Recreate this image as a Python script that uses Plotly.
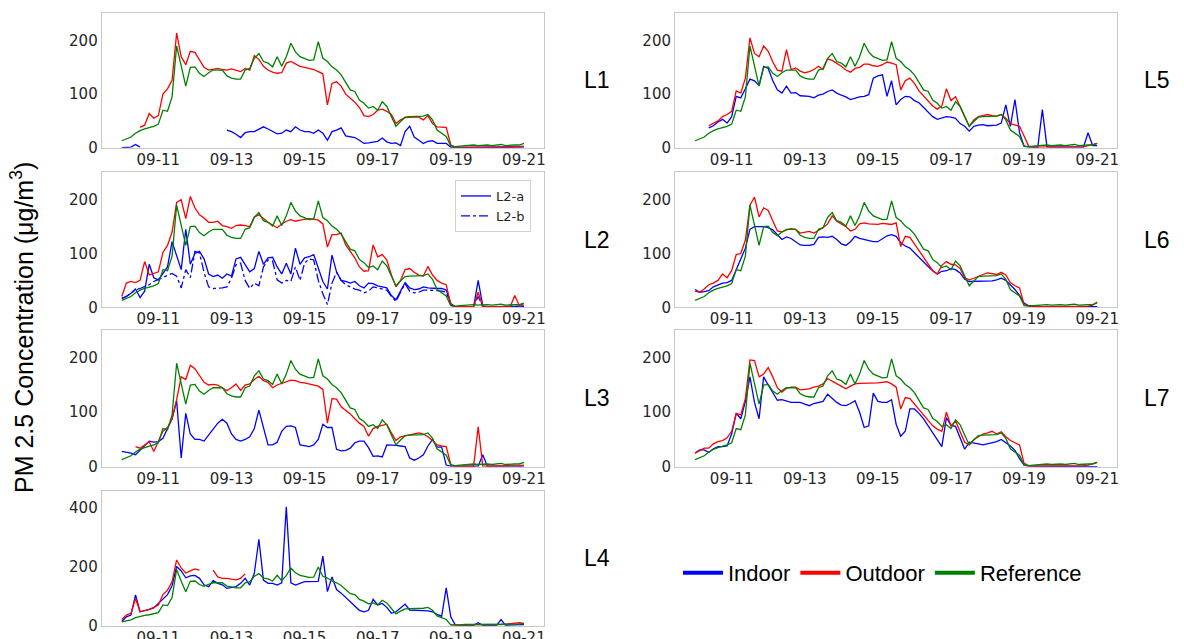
import pandas as pd
import plotly.graph_objects as go

# ---------------- data (3-hourly, 2020-09-10 00:00 .. 2020-09-21 00:00) ----------------
TIMES = pd.date_range("2020-09-10 00:00", "2020-09-21 00:00", freq="3h")
TICK_DATES = ["2020-09-11", "2020-09-13", "2020-09-15", "2020-09-17", "2020-09-19", "2020-09-21"]
N = None

REFERENCE = [13, 16, 20, 27, 32, 35, 37, 40,
             44, 70, 68, 95, 190, 150, 115, 150,
             151, 139, 133, 140, 145, 145, 145, 134,
             130, 128, 128, 145, 148, 167, 176, 161,
             158, 151, 170, 152, 170, 195, 179, 170,
             167, 163, 164, 198, 167, 161, 151, 145,
             136, 123, 108, 105, 89, 83, 74, 77,
             70, 86, 77, 58, 40, 49, 57, 58,
             58, 58, 59, 62, 52, 33, 27, 21,
             3, 2, 3, 4, 4, 5, 4, 5,
             5, 4, 5, 6, 4, 5, 5, 5,
             8]

L1_OUT = [N, N, N, N, 38, 42, 64, 55,
          60, 100, 110, 126, 214, 170, 155, 180,
          178, 165, 150, 145, 147, 148, 146, 145,
          147, 145, 142, 148, 145, 172, 165, 152,
          145, 141, 139, 140, 158, 161, 156, 152,
          150, 148, 146, 142, 138, 80, 120, 123,
          115, 100, 93, 85, 75, 60, 58, 62,
          70, 72, 68, 62, 45, 52, 56, 57,
          57, 57, 52, 60, 45, 39, 38, 38,
          5, 1, 1, 1, 1, 1, 1, 1,
          1, 1, 1, 1, 1, 1, 2, 2,
          3]
L1_IN = [0, 0, 1, 6, 1, N, N, N,
         N, N, N, N, N, N, N, N,
         N, N, N, N, N, N, N, 33,
         30, 25, 19, 28, 30, 30, 35, 39,
         35, 30, 26, 27, 33, 30, 39, 33,
         30, 30, 27, 33, 27, 14, 30, 33,
         37, 22, 21, 19, 14, 8, 9, 11,
         12, 18, 11, 8, 9, 4, 30, 40,
         20, 14, 8, 12, 13, 8, 8, 8,
         1, 0, 0, 0, 0, 0, 0, 0,
         0, 0, 0, 0, 0, 0, 0, 0,
         1]

L2_OUT = [20, 45, 48, 46, 50, 85, 60, 63,
          66, 102, 115, 140, 195, 200, 165, 206,
          185, 172, 166, 158, 158, 160, 152, 150,
          147, 152, 153, 152, 150, 168, 172, 165,
          158, 153, 148, 155, 160, 163, 160, 162,
          163, 165, 164, 162, 155, 112, 135, 135,
          138, 116, 104, 92, 75, 67, 68, 116,
          94, 98, 88, 60, 38, 50, 70, 72,
          65, 60, 58, 76, 60, 50, 45, 42,
          5, 1, 1, 1, 1, 1, 28, 1,
          1, 1, 1, 1, 1, 1, 22, 3,
          7]
L2_A = [17, 20, 26, 34, 18, 30, 80, 55,
        51, 62, 75, 122, 95, 70, 145, 80,
        100, 104, 90, 62, 57, 60, 54, 62,
        58, 90, 93, 80, 66, 72, 104, 80,
        92, 93, 75, 62, 82, 62, 110, 80,
        92, 94, 98, 73, 48, 34, 97, 66,
        50, 48, 45, 48, 40, 36, 45, 44,
        40, 38, 36, 22, 14, 30, 46, 36,
        33, 34, 38, 36, 35, 35, 35, 32,
        7, 1, 1, 1, 1, 1, 50, 3,
        1, 1, 1, 1, 1, 1, 1, 1,
        2]
L2_B = [16, 20, 26, 32, 35, 38, 42, 48,
        52, 56, 60, 63, 58, 36, 70, 55,
        104, 101, 65, 38, 35, 35, 36, 38,
        54, 79, 82, 50, 35, 45, 40, 75,
        88, 86, 51, 45, 50, 48, 75, 50,
        82, 90, 88, 50, 25, 5, 45, 65,
        50, 42, 38, 34, 32, 27, 30, 38,
        36, 34, 32, 20, 11, 28, 44, 30,
        27, 28, 32, 32, 32, 31, 30, 28,
        4, 1, 1, 1, 1, 1, 20, 1,
        1, 1, 1, 1, 1, 1, 1, 1,
        2]

L3_OUT = [N, N, N, 37, 34, 40, 46, 28,
          45, 65, 72, 88, 123, 165, 160, 186,
          180, 168, 155, 150, 151, 150, 145, 140,
          145, 152, 140, 150, 152, 160, 166, 158,
          155, 145, 150, 153, 156, 159, 158, 155,
          154, 152, 150, 148, 142, 80, 125, 124,
          110, 104, 97, 88, 80, 74, 56, 70,
          74, 76, 78, 62, 48, 55, 57, 59,
          60, 62, 60, 55, 48, 40, 38, 37,
          4, 1, 1, 1, 1, 1, 73, 1,
          1, 1, 1, 1, 1, 1, 1, 2,
          3]
L3_IN = [28, 27, 25, 22, 31, 40, 47, 45,
         46, 52, 70, 88, 121, 16, 98, 60,
         50, 50, 47, 58, 70, 80, 87, 80,
         60, 50, 47, 50, 55, 70, 104, 72,
         40, 40, 45, 65, 74, 75, 72, 40,
         38, 37, 40, 50, 78, 72, 72, 32,
         29, 30, 34, 44, 47, 47, 35, 19,
         20, 18, 40, 40, 39, 38, 37, 16,
         12, 16, 22, 38, 50, 36, 36, 3,
         1, 1, 1, 1, 1, 1, 1, 22,
         1, 1, 1, 1, 1, 1, 1, 1,
         1]

L4_OUT = [21, 36, 42, 92, 47, 50, 55, 62,
          70, 105, 120, 148, 222, 195, 178, 185,
          192, 188, N, N, 188, 165, 160, 160,
          157, 155, 160, 175, N, N, N, N,
          N, N, N, N, N, N, N, N,
          N, N, N, N, N, N, N, N,
          N, N, N, N, N, N, N, N,
          N, N, N, N, N, N, N, N,
          N, N, N, N, N, N, N, N,
          2, 2, 2, 2, 2, 2, 3, 3,
          3, 3, 4, 4, 5, 6, 8, 10,
          8]
L4_IN = [14, 30, 36, 104, 47, 50, 55, 60,
         75, 92, 105, 135, 200, 185, 162, 168,
         170, 160, 138, 132, 152, 143, 138, 126,
         128, 132, 143, 160, 137, 177, 292, 154,
         143, 143, 137, 145, 402, 145, 137, 143,
         149, 149, 150, 150, 235, 115, 165, 122,
         110, 95, 80, 65, 52, 47, 52, 89,
         70, 75, 62, 42, 47, 60, 73, 53,
         53, 53, 51, 50, 47, 38, 32, 128,
         30, 2, 1, 1, 1, 1, 10, 1,
         1, 1, 1, 21, 1, 2, 3, 3,
         4]

L5_OUT = [N, N, N, 41, 45, 50, 58, 62,
          68, 106, 102, 130, 205, 176, 170, 190,
          180, 160, 145, 143, 183, 146, 149, 143,
          140, 142, 146, 152, 146, 166, 163, 158,
          152, 145, 141, 148, 150, 156, 156, 153,
          152, 155, 160, 158, 155, 108, 125, 130,
          120, 106, 96, 86, 78, 72, 78, 110,
          88, 95, 76, 58, 40, 52, 58, 60,
          62, 60, 59, 62, 55, 45, 42, 40,
          22, 3, 1, 1, 1, 1, 1, 1,
          1, 1, 1, 1, 1, 2, 4, 6,
          8]
L5_IN = [N, N, N, 37, 41, 48, 53, 46,
         58, 96, 93, 110, 128, 125, 116, 152,
         148, 125, 108, 102, 115, 102, 103, 97,
         96, 96, 93, 98, 100, 105, 108, 102,
         98, 95, 90, 93, 95, 96, 99, 130,
         134, 136, 96, 125, 80, 90, 96, 95,
         88, 84, 75, 65, 58, 53, 55, 58,
         57, 55, 45, 40, 31, 40, 42, 43,
         41, 41, 42, 46, 80, 40, 90, 28,
         3, 1, 1, 1, 71, 2, 1, 1,
         1, 1, 1, 1, 1, 1, 28, 4,
         4]

L6_OUT = [30, 28, 34, 42, 45, 50, 62, 55,
          68, 98, 100, 125, 190, 205, 168, 185,
          180, 160, 142, 140, 144, 146, 145, 138,
          140, 141, 138, 143, 148, 155, 170, 160,
          155, 150, 142, 145, 155, 157, 155, 154,
          154, 156, 155, 154, 157, 113, 132, 130,
          118, 105, 92, 80, 68, 62, 78, 85,
          80, 79, 72, 55, 51, 54, 58, 61,
          64, 62, 61, 65, 60, 46, 40, 36,
          5, 2, 1, 1, 1, 1, 1, 1,
          1, 1, 1, 1, 1, 1, 2, 4,
          10]
L6_IN = [33, 28, 29, 31, 38, 42, 45, 46,
         50, 70, 90, 110, 145, 150, 150, 150,
         148, 144, 135, 126, 131, 128, 122, 116,
         115, 115, 117, 130, 131, 130, 132, 126,
         118, 115, 122, 132, 128, 126, 124, 122,
         122, 127, 133, 135, 132, 120, 114, 110,
         101, 92, 85, 76, 68, 62, 67, 68,
         72, 70, 64, 52, 48, 48, 48, 48,
         48, 49, 51, 54, 50, 42, 33, 22,
         8, 3, 2, 1, 1, 1, 1, 1,
         1, 1, 1, 1, 1, 1, 1, 1,
         1]

L7_OUT = [25, 29, 34, 34, 42, 46, 48, 53,
          65, 98, 95, 125, 196, 195, 165, 170,
          182, 165, 145, 137, 144, 146, 146, 141,
          142, 143, 146, 148, 152, 162, 157, 152,
          148, 143, 148, 152, 153, 153, 153, 153,
          154, 155, 156, 152, 146, 106, 127, 125,
          115, 104, 95, 85, 75, 69, 65, 100,
          75, 84, 65, 45, 40, 50, 55, 60,
          62, 65, 60, 64, 55, 48, 44, 40,
          6, 2, 1, 1, 1, 1, 1, 1,
          1, 1, 1, 1, 1, 2, 3, 5,
          8]
L7_IN = [25, 31, 31, 26, 33, 37, 37, 38,
         60, 98, 88, 120, 165, 118, 88, 165,
         150, 135, 122, 123, 121, 118, 118, 118,
         115, 112, 116, 118, 120, 133, 125, 118,
         113, 112, 116, 121, 100, 72, 75, 135,
         120, 118, 118, 123, 78, 56, 65, 106,
         106, 98, 88, 75, 62, 48, 37, 90,
         76, 74, 52, 32, 45, 44, 42, 40,
         42, 44, 46, 50, 44, 38, 30, 15,
         3, 1, 1, 1, 1, 1, 1, 1,
         1, 1, 1, 1, 1, 1, 1, 1,
         0]

PANEL_NAMES = ["L1", "L2", "L3", "L4", "L5", "L6", "L7"]
INDOOR = {"L1": L1_IN, "L3": L3_IN, "L4": L4_IN, "L5": L5_IN, "L6": L6_IN, "L7": L7_IN}
OUTDOOR = {"L1": L1_OUT, "L2": L2_OUT, "L3": L3_OUT, "L4": L4_OUT,
           "L5": L5_OUT, "L6": L6_OUT, "L7": L7_OUT}
Y_TICKS = {"L4": [0, 200, 400]}

# ---------------- layout geometry (pixels of a 1184 x 639 canvas) ----------------
W, H = 1184, 639
COLS = {0: (101.7, 544.0), 1: (675.0, 1117.3)}
ROWS = [(13.3, 147.7), (172.3, 307.3), (330.0, 466.7), (490.7, 625.7)]
PLACE = {"L1": (0, 0), "L2": (0, 1), "L3": (0, 2), "L4": (0, 3),
         "L5": (1, 0), "L6": (1, 1), "L7": (1, 2)}
BLUE, RED, GREEN = "#0000ff", "#ff0000", "#008000"
LW = 1.3
TICKFONT = dict(family="DejaVu Sans", size=15, color="#262626")
FRAME = "#c8c8c8"

fig = go.Figure()
layout = {}
annotations = []

for k, name in enumerate(PANEL_NAMES, start=1):
    col, row = PLACE[name]
    x0, x1 = COLS[col]
    yt, yb = ROWS[row]
    xa = "x" if k == 1 else f"x{k}"
    ya = "y" if k == 1 else f"y{k}"
    xkey = "xaxis" if k == 1 else f"xaxis{k}"
    ykey = "yaxis" if k == 1 else f"yaxis{k}"
    ymax = 456 if name == "L4" else 251
    layout[xkey] = dict(
        domain=[x0 / W, x1 / W], anchor=ya, type="date", automargin=False,
        range=["2020-09-09 10:48", "2020-09-21 13:12"],
        tickvals=TICK_DATES, tickformat="%m-%d", ticklabelstandoff=-2,
        showline=True, mirror=True, linecolor=FRAME, linewidth=1,
        showgrid=False, zeroline=False, ticks="", tickfont=TICKFONT,
    )
    layout[ykey] = dict(
        domain=[1 - yb / H, 1 - yt / H], anchor=xa, range=[0, ymax], automargin=False,
        tickvals=Y_TICKS.get(name, [0, 100, 200]),
        showline=True, mirror=True, linecolor=FRAME, linewidth=1,
        showgrid=False, zeroline=False, ticks="", tickfont=TICKFONT,
    )

    if name == "L2":
        fig.add_trace(go.Scatter(x=TIMES, y=L2_A, mode="lines", name="L2-a",
                                 line=dict(color=BLUE, width=LW), xaxis=xa, yaxis=ya,
                                 legend="legend2", showlegend=True))
        fig.add_trace(go.Scatter(x=TIMES, y=L2_B, mode="lines", name="L2-b",
                                 line=dict(color=BLUE, width=LW, dash="dashdot"),
                                 xaxis=xa, yaxis=ya, legend="legend2", showlegend=True))
    else:
        fig.add_trace(go.Scatter(x=TIMES, y=INDOOR[name], mode="lines", name="Indoor",
                                 line=dict(color=BLUE, width=LW), xaxis=xa, yaxis=ya,
                                 showlegend=False))
    fig.add_trace(go.Scatter(x=TIMES, y=OUTDOOR[name], mode="lines", name="Outdoor",
                             line=dict(color=RED, width=LW), xaxis=xa, yaxis=ya,
                             showlegend=False))
    fig.add_trace(go.Scatter(x=TIMES, y=REFERENCE, mode="lines", name="Reference",
                             line=dict(color=GREEN, width=LW), xaxis=xa, yaxis=ya,
                             showlegend=False))

    lx = 597 if col == 0 else 1157
    annotations.append(dict(
        text=name, x=lx / W, y=1 - ((yt + yb) / 2) / H, xref="paper", yref="paper",
        showarrow=False, xanchor="center", yanchor="middle",
        font=dict(family="Liberation Sans", size=23, color="black")))

# legend keys for the shared legend
for nm, c in [("Indoor", BLUE), ("Outdoor", RED), ("Reference", GREEN)]:
    fig.add_trace(go.Scatter(x=[None], y=[None], mode="lines", name=nm,
                             line=dict(color=c, width=4), xaxis="x", yaxis="y",
                             legend="legend", showlegend=True))

annotations.append(dict(
    text="PM 2.5 Concentration (μg/m<sup>3</sup>)", x=22 / W, y=1 - 328 / H,
    xref="paper", yref="paper", showarrow=False, textangle=-90,
    xanchor="center", yanchor="middle",
    font=dict(family="Liberation Sans", size=25, color="black")))

fig.update_layout(
    width=W, height=H, margin=dict(l=0, r=0, t=0, b=0, autoexpand=False),
    paper_bgcolor="white", plot_bgcolor="white",
    annotations=annotations,
    legend=dict(orientation="h", x=678 / W, y=1 - 573 / H, xanchor="left", yanchor="middle",
                font=dict(family="Liberation Sans", size=22, color="black"),
                bgcolor="rgba(0,0,0,0)", itemwidth=40, tracegroupgap=0),
    legend2=dict(x=455 / W, y=1 - 180 / H, xanchor="left", yanchor="top",
                 font=dict(family="DejaVu Sans", size=13, color="#262626"),
                 bgcolor="white", bordercolor="#d0d0d0", borderwidth=1),
    **layout,
)

fig.write_html("out.html", config={"displayModeBar": False},
               post_script="document.body.style.margin='0';"
                           "document.body.style.overflow='hidden';")
